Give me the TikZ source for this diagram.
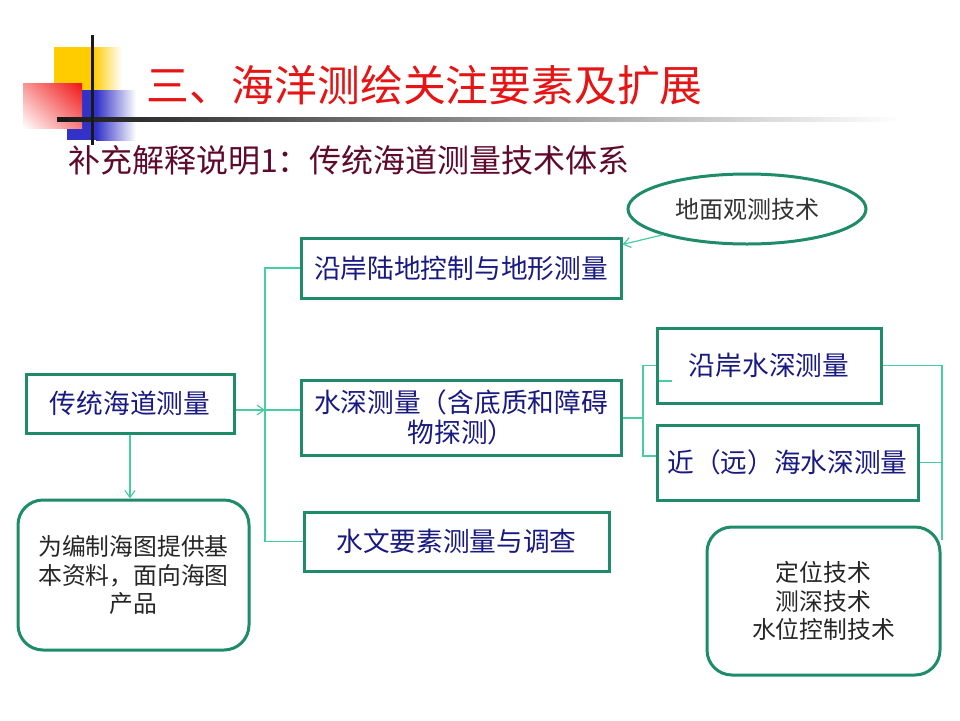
\documentclass[tikz,border=0pt]{standalone}
\usepackage{fontspec}
\setmainfont{Noto Sans CJK SC}
\newfontfamily\cjk{Noto Sans CJK SC}
\usetikzlibrary{shapes.geometric,arrows.meta,shadings}
\definecolor{bordergreen}{RGB}{30,140,105}
\definecolor{connc}{RGB}{70,205,160}
\definecolor{navytext}{RGB}{25,25,130}
\definecolor{titlered}{RGB}{230,20,20}
\definecolor{subred}{RGB}{95,10,45}
\definecolor{yellowc}{RGB}{255,204,0}
\definecolor{bluec}{RGB}{50,50,200}
\definecolor{redc}{RGB}{240,20,20}
\tikzset{
  box/.style={draw=bordergreen, line width=3pt, inner sep=0pt, text=navytext,
    font=\fontsize{26.7}{30}\selectfont, align=center},
  roundbox/.style={draw=bordergreen, line width=3pt, rounded corners=25pt, inner sep=0pt,
    text=black!85, font=\fontsize{23.8}{28.5}\selectfont, align=center},
  ellbox/.style={ellipse, draw=bordergreen, line width=3pt, inner sep=0pt,
    text=black!80, font=\fontsize{24}{26}\selectfont},
  conn/.style={draw=connc, line width=1.2pt},
  tip/.style={-{Straight Barb[length=7pt,width=10pt]}}
}
\begin{document}
\begin{tikzpicture}[x=1pt,y=-1pt]
\useasboundingbox (0,0) rectangle (960,720);
\fill[white] (0,0) rectangle (960,720);
% decoration
\fill[yellowc] (54,47) rectangle (93,90);
\shade[left color=yellowc, right color=white] (93,47) rectangle (122,90);
\fill[bluec] (67,90) rectangle (96,140);
\shade[left color=bluec, right color=white] (96,90) rectangle (136,140);
\shade[upper left=redc!45, upper right=redc, lower left=white, lower right=redc!55] (23,83) rectangle (82,128);
\shade[left color=black!90, right color=white] (57,117.5) rectangle (900,121);
\fill[black!90] (57,117.5) rectangle (68,121);
\draw[line width=3pt, black!90] (92,35) -- (92,145);
% titles
\node[anchor=west, inner sep=0pt, text=titlered, font=\fontsize{42.8}{46}\selectfont] (title) at (146,85) {三、海洋测绘关注要素及扩展};
\node[anchor=west, inner sep=0pt, text=subred, font=\fontsize{32}{36}\selectfont] (sub) at (68,160) {补充解释说明1：传统海道测量技术体系};
% nodes
\node[ellbox, minimum width=238pt, minimum height=70pt] (ell) at (747,209) {地面观测技术};
\node[box, minimum width=320pt, minimum height=60pt] (b1) at (461,268) {沿岸陆地控制与地形测量};
\node[box, minimum width=208pt, minimum height=59pt] (main) at (130,403.5) {传统海道测量};
\node[box, minimum width=320pt, minimum height=75pt] (b2) at (461,417.5) {水深测量（含底质和障碍\\物探测）};
\node[box, minimum width=305pt, minimum height=59pt] (b3) at (456.5,541.5) {水文要素测量与调查};
\node[roundbox, minimum width=231pt, minimum height=150pt] (lr) at (133.5,575) {为编制海图提供基\\本资料，面向海图\\产品};
\node[box, minimum width=224pt, minimum height=75pt] (ba) at (769,365.5) {沿岸水深测量};
\node[box, minimum width=261pt, minimum height=75pt] (bb) at (787.5,462.5) {近（远）海水深测量};
\node[roundbox, minimum width=233pt, minimum height=148pt] (rr) at (823.5,601) {定位技术\\测深技术\\水位控制技术};
% connectors
\coordinate (j1) at (265,410);
\coordinate (j2) at (643,418);
\coordinate (j3) at (942,365.5);
\coordinate (j3end) at (942,540);
\draw[conn, tip] (main.east |- j1) -- (j1);
\draw[conn] (b1.west) -- (b1.west -| j1) -- (b3.west -| j1) -- (b3.west);
\draw[conn] (j1) -- (b2.west |- j1);
\draw[conn, tip] (main.south) -- (main.south |- lr.north);
\draw[conn] (b2.east |- j2) -- (j2);
\draw[conn] (ba.west) -- (ba.west -| j2) -- (j2 |- 0,456) -- (bb.west |- 0,456);
\draw[conn] ([xshift=3pt,yshift=-15.5pt]ba.west) -- ++(13,0);
\draw[conn] (ba.east) -- (j3) -- (j3end);
\draw[conn] (bb.east) -- (bb.east -| j3);
\draw[conn, tip] (ell.197) -- ([yshift=-8pt]b1.north east);
\end{tikzpicture}
\end{document}
